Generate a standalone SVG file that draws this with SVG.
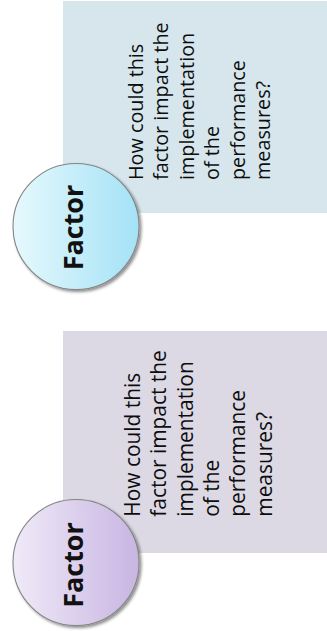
<svg xmlns="http://www.w3.org/2000/svg" width="327" height="631" viewBox="0 0 327 631">
  <defs>
    <linearGradient id="gradBlue" x1="0" y1="0" x2="1" y2="0">
      <stop offset="0" stop-color="#e6f9fd"/>
      <stop offset="1" stop-color="#a4e2f6"/>
    </linearGradient>
    <linearGradient id="gradViolet" x1="0" y1="0" x2="1" y2="0">
      <stop offset="0" stop-color="#f0eaf8"/>
      <stop offset="1" stop-color="#c8b5e2"/>
    </linearGradient>
    <filter id="shadow" x="-20%" y="-20%" width="140%" height="140%">
      <feGaussianBlur in="SourceAlpha" stdDeviation="1.6"/>
      <feOffset dx="1.5" dy="1.5" result="blur"/>
      <feComponentTransfer><feFuncA type="linear" slope="0.45"/></feComponentTransfer>
      <feMerge><feMergeNode/><feMergeNode in="SourceGraphic"/></feMerge>
    </filter>
  </defs>
  <style>
    .circle { stroke: #858585; stroke-width: 1.1; filter: url(#shadow); }
    .label { font-family: "Open Sans", "Noto Sans", sans-serif; font-weight: 700; font-size: 27px; fill: #111; text-anchor: middle; }
    .body { font-family: "Open Sans", "Noto Sans", sans-serif; font-weight: 500; fill: #0d0d0d; }
  </style>

  <!-- upper factor: question panel + circle -->
  <g id="panel-top">
    <rect x="63" y="1" width="264" height="212" fill="#d6e6ec"/>
    <g class="body" font-size="19.8px">
      <text transform="translate(143,180) rotate(-90)">How could this</text>
      <text transform="translate(168.4,180) rotate(-90)">factor impact the</text>
      <text transform="translate(193.8,180) rotate(-90)">implementation</text>
      <text transform="translate(219.2,180) rotate(-90)">of the</text>
      <text transform="translate(244.6,180) rotate(-90)">performance</text>
      <text transform="translate(270,180) rotate(-90)">measures?</text>
    </g>
  </g>
  <g id="factor-top">
    <circle class="circle" cx="76" cy="226.5" r="63" fill="url(#gradBlue)"/>
    <text class="label" transform="translate(83,227.5) rotate(-90)">Factor</text>
  </g>

  <!-- lower factor: question panel + circle -->
  <g id="panel-bottom">
    <rect x="63" y="331" width="264" height="222" fill="#dcd9e5"/>
    <g class="body" font-size="20.9px">
      <text transform="translate(140,516.7) rotate(-90)">How could this</text>
      <text transform="translate(166.3,516.7) rotate(-90)">factor impact the</text>
      <text transform="translate(192.6,516.7) rotate(-90)">implementation</text>
      <text transform="translate(218.9,516.7) rotate(-90)">of the</text>
      <text transform="translate(245.2,516.7) rotate(-90)">performance</text>
      <text transform="translate(271.5,516.7) rotate(-90)">measures?</text>
    </g>
  </g>
  <g id="factor-bottom">
    <circle class="circle" cx="76" cy="562.5" r="63" fill="url(#gradViolet)"/>
    <text class="label" transform="translate(83,565) rotate(-90)">Factor</text>
  </g>
</svg>
